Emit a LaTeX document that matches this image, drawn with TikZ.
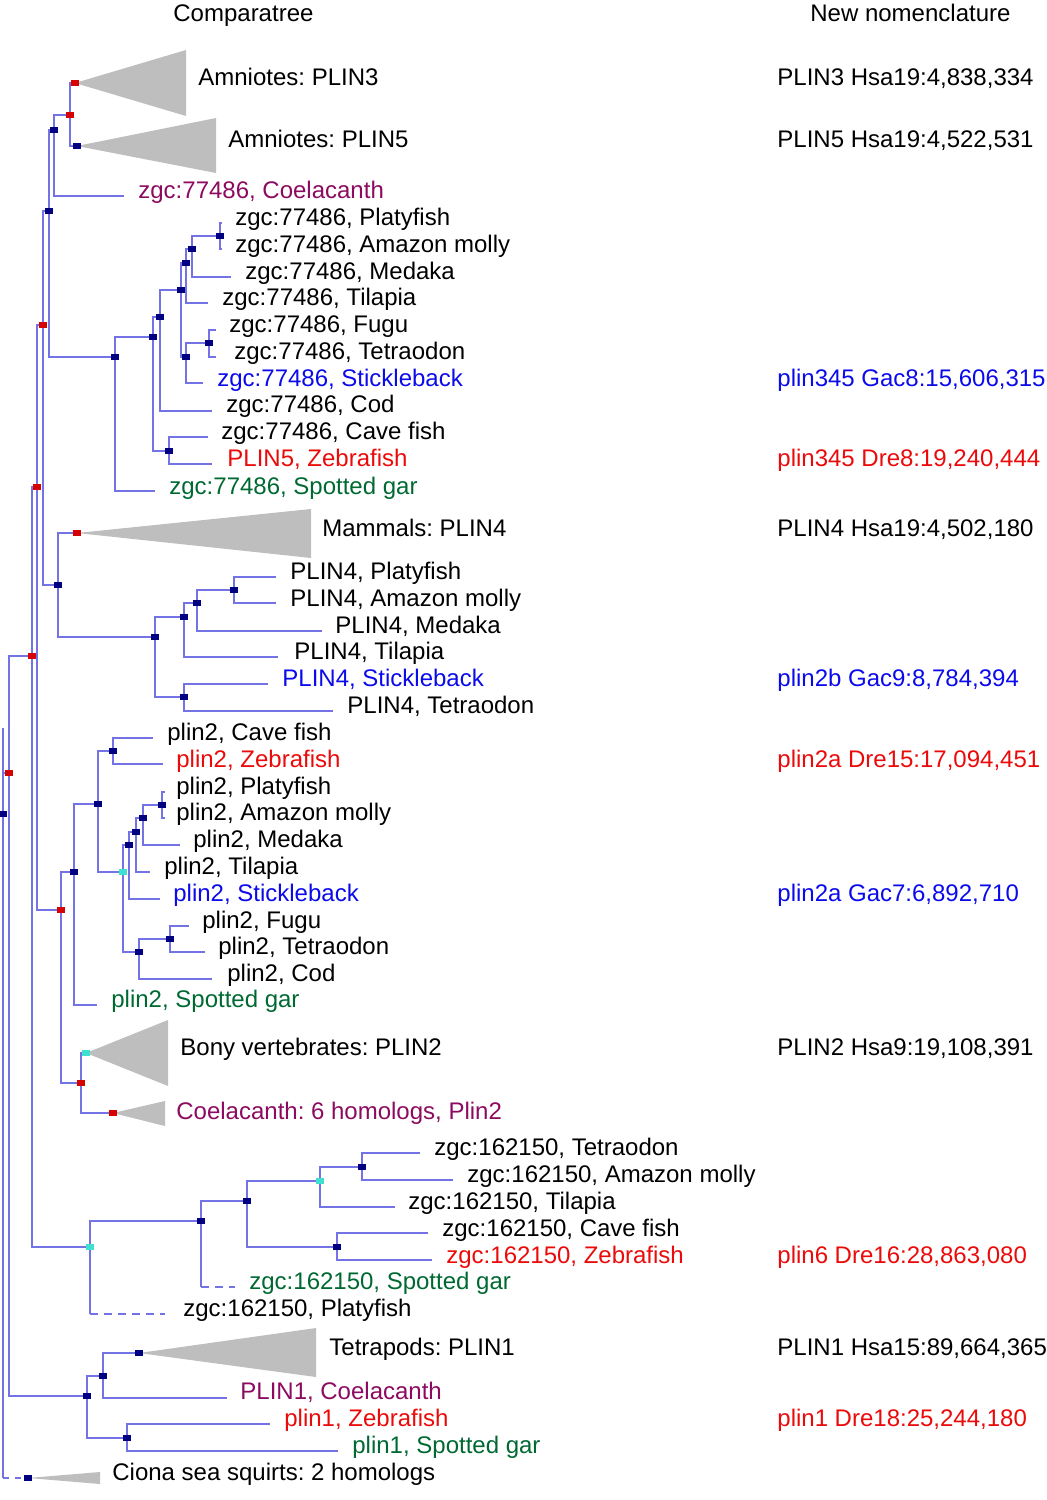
\documentclass[tikz,border=0pt]{standalone}
\usepackage{fontspec}
\setmainfont{Liberation Sans}
\usetikzlibrary{backgrounds}
\frenchspacing
\definecolor{branch}{RGB}{115,115,230}
\definecolor{sqnavy}{RGB}{0,0,128}
\definecolor{sqred}{RGB}{215,0,0}
\definecolor{sqcyan}{RGB}{64,224,208}
\definecolor{trigray}{RGB}{190,190,190}
\definecolor{txpurple}{RGB}{140,10,95}
\definecolor{txgreen}{RGB}{0,105,50}
\definecolor{txblue}{RGB}{10,10,235}
\definecolor{txred}{RGB}{235,10,10}
\begin{document}
\begin{tikzpicture}[x=0.5pt,y=-0.5pt,
 br/.style={draw=branch,line width=0.6pt},
 sq/.style={rectangle,inner sep=0pt,minimum width=3.8pt,minimum height=2.8pt},
 nv/.style={sq,fill=sqnavy}, rd/.style={sq,fill=sqred}, cy/.style={sq,fill=sqcyan},
 tri/.style={fill=trigray},
 lab/.style={anchor=base west,inner sep=0pt,font=\fontsize{12pt}{14pt}\selectfont},
 pu/.style={lab,text=txpurple}, gr/.style={lab,text=txgreen},
 bl/.style={lab,text=txblue}, re/.style={lab,text=txred}]
\useasboundingbox (0,0) rectangle (1047,1500);
% ---------- internal nodes ----------
\node[nv] (root) at (3,814) {};
\node[rd] (k) at (9,773) {};
\node[rd] (i) at (32,656) {};
\node[rd] (g) at (37,487) {};
\node[rd] (e) at (43,325) {};
\node[nv] (c) at (49,211) {};
\node[nv] (b) at (54,130) {};
\node[rd] (a) at (70,115) {};
\node[rd] (cl3) at (75,83) {};
\node[nv] (cl5) at (77,146) {};
\node[nv] (d) at (115,357) {};
\node[nv] (m) at (153,337) {};
\node[nv] (n) at (160,317) {};
\node[nv] (o) at (181,290) {};
\node[nv] (p) at (186,263) {};
\node[nv] (q) at (192,249) {};
\node[nv] (r) at (220,236) {};
\node[nv] (s) at (186,357) {};
\node[nv] (t) at (209,343) {};
\node[nv] (u) at (169,451) {};
\node[nv] (f) at (58,585) {};
\node[rd] (cl4) at (77,533) {};
\node[nv] (v) at (155,637) {};
\node[nv] (w) at (184,617) {};
\node[nv] (x) at (197,603) {};
\node[nv] (y) at (234,590) {};
\node[nv] (z) at (184,697) {};
\node[rd] (h) at (61,910) {};
\node[nv] (h1) at (74,872) {};
\node[nv] (h2) at (98,804) {};
\node[nv] (h3) at (113,751) {};
\node[cy] (h4) at (123,872) {};
\node[nv] (h5) at (129,845) {};
\node[nv] (h6) at (136,832) {};
\node[nv] (h7) at (143,818) {};
\node[nv] (h8) at (162,805) {};
\node[nv] (h9) at (139,952) {};
\node[nv] (h10) at (170,939) {};
\node[rd] (bb) at (81,1083) {};
\node[cy] (cl2) at (86,1053) {};
\node[rd] (clc) at (113,1113) {};
\node[cy] (j) at (90,1247) {};
\node[nv] (j1) at (201,1221) {};
\node[nv] (j2) at (247,1201) {};
\node[cy] (j3) at (320,1181) {};
\node[nv] (j4) at (362,1167) {};
\node[nv] (j5) at (337,1247) {};
\node[nv] (l) at (87,1396) {};
\node[nv] (l1) at (103,1376) {};
\node[nv] (cl1) at (139,1353) {};
\node[nv] (l2) at (127,1438) {};
\node[nv] (ciona) at (28,1478) {};
% ---------- leaf ends ----------
\coordinate (rtop) at (3,728);
\coordinate (Lcoel77) at (124,196);
\coordinate (Lgar77) at (155,491);
\coordinate (Lcod77) at (212,411);
\coordinate (Ltil77) at (208,303);
\coordinate (Lmed77) at (231,277);
\coordinate (Lpla77) at (222,223);
\coordinate (Lama77) at (222,249);
\coordinate (Lsti77) at (203,383);
\coordinate (Lfug77) at (216,330);
\coordinate (Ltet77) at (216,357);
\coordinate (Lcav77) at (208,437);
\coordinate (Lzeb77) at (212,464);
\coordinate (Ltil4) at (278,657);
\coordinate (Lmed4) at (322,631);
\coordinate (Lpla4) at (276,577);
\coordinate (Lama4) at (276,603);
\coordinate (Lsti4) at (268,684);
\coordinate (Ltet4) at (333,711);
\coordinate (Lgar2) at (97,1005);
\coordinate (Lcav2) at (153,738);
\coordinate (Lzeb2) at (163,764);
\coordinate (Lsti2) at (160,899);
\coordinate (Ltil2) at (150,872);
\coordinate (Lmed2) at (180,845);
\coordinate (Lpla2) at (165,792);
\coordinate (Lama2) at (165,818);
\coordinate (Lcod2) at (212,979);
\coordinate (Lfug2) at (189,926);
\coordinate (Ltet2) at (205,952);
\coordinate (Lpla6) at (165,1314);
\coordinate (Lgar6) at (235,1287);
\coordinate (Ltil6) at (395,1207);
\coordinate (Ltet6) at (420,1153);
\coordinate (Lama6) at (453,1180);
\coordinate (Lcav6) at (428,1233);
\coordinate (Lzeb6) at (432,1260);
\coordinate (Lcoel1) at (227,1398);
\coordinate (Lzeb1) at (270,1424);
\coordinate (Lgar1) at (338,1451);
% ---------- lines and triangles ----------
\begin{scope}[on background layer]
\fill[tri] (cl3.center) -- (186,50) -- (186,116) -- cycle;
\fill[tri] (cl5.center) -- (216,118) -- (216,173) -- cycle;
\fill[tri] (cl4.center) -- (311,509) -- (311,558) -- cycle;
\fill[tri] (cl2.center) -- (168,1020) -- (168,1086) -- cycle;
\fill[tri] (clc.center) -- (165,1101) -- (165,1126) -- cycle;
\fill[tri] (cl1.center) -- (316,1328) -- (316,1377) -- cycle;
\fill[tri] (ciona.center) -- (100,1472) -- (100,1484) -- cycle;
\draw[br] (root.center) -- (rtop);
\foreach \pa/\ch in {root/k,k/i,k/l,i/g,i/j,g/e,g/h,e/c,e/f,c/b,c/d,b/a,b/Lcoel77,a/cl3,a/cl5,
 d/m,d/Lgar77,m/n,m/u,n/o,n/Lcod77,o/p,o/s,p/q,p/Ltil77,q/r,q/Lmed77,r/Lpla77,r/Lama77,
 s/t,s/Lsti77,t/Lfug77,t/Ltet77,u/Lcav77,u/Lzeb77,
 f/cl4,f/v,v/w,v/z,w/x,w/Ltil4,x/y,x/Lmed4,y/Lpla4,y/Lama4,z/Lsti4,z/Ltet4,
 h/h1,h/bb,h1/h2,h1/Lgar2,h2/h3,h2/h4,h3/Lcav2,h3/Lzeb2,h4/h5,h4/h9,h5/h6,h5/Lsti2,
 h6/h7,h6/Ltil2,h7/h8,h7/Lmed2,h8/Lpla2,h8/Lama2,h9/h10,h9/Lcod2,h10/Lfug2,h10/Ltet2,
 bb/cl2,bb/clc,j/j1,j1/j2,j2/j3,j2/j5,j3/j4,j3/Ltil6,j4/Ltet6,j4/Lama6,j5/Lcav6,j5/Lzeb6,
 l/l1,l/l2,l1/cl1,l1/Lcoel1,l2/Lzeb1,l2/Lgar1}
 \draw[br] (\pa.center) |- (\ch.center);
\draw[br] (j.center) -- (j.center |- Lpla6);
\draw[br,dash pattern=on 4pt off 3pt] (j.center |- Lpla6) -- (Lpla6);
\draw[br] (j1.center) -- (j1.center |- Lgar6);
\draw[br,dash pattern=on 4pt off 3pt] (j1.center |- Lgar6) -- (Lgar6);
\draw[br] (root.center) -- (root.center |- ciona);
\draw[br,dash pattern=on 3pt off 3pt] (root.center |- ciona) -- (ciona.center);
\end{scope}
% ---------- texts ----------
\node[lab] (hd1) at (173,21) {Comparatree};
\node[lab] (hd2) at (810,21) {New nomenclature};
\node[lab] (t3) at (198,85) {Amniotes: PLIN3};
\node[lab] (t5) at (228,147) {Amniotes: PLIN5};
\node[pu] (a1) at (138,198) {zgc:77486, Coelacanth};
\node[lab] (a2) at (235,225) {zgc:77486, Platyfish};
\node[lab] (a3) at (235,252) {zgc:77486, Amazon molly};
\node[lab] (a4) at (245,279) {zgc:77486, Medaka};
\node[lab] (a5) at (222,305) {zgc:77486, Tilapia};
\node[lab] (a6) at (229,332) {zgc:77486, Fugu};
\node[lab] (a7) at (234,359) {zgc:77486, Tetraodon};
\node[bl] (a8) at (217,386) {zgc:77486, Stickleback};
\node[lab] (a9) at (226,412) {zgc:77486, Cod};
\node[lab] (a10) at (221,439) {zgc:77486, Cave fish};
\node[re] (a11) at (227,466) {PLIN5, Zebrafish};
\node[gr] (a12) at (169,494) {zgc:77486, Spotted gar};
\node[lab] (t4) at (322,536) {Mammals: PLIN4};
\node[lab] (b1) at (290,579) {PLIN4, Platyfish};
\node[lab] (b2) at (290,606) {PLIN4, Amazon molly};
\node[lab] (b3) at (335,633) {PLIN4, Medaka};
\node[lab] (b4) at (294,659) {PLIN4, Tilapia};
\node[bl] (b5) at (282,686) {PLIN4, Stickleback};
\node[lab] (b6) at (347,713) {PLIN4, Tetraodon};
\node[lab] (c1) at (167,740) {plin2, Cave fish};
\node[re] (c2) at (176,767) {plin2, Zebrafish};
\node[lab] (c3) at (176,794) {plin2, Platyfish};
\node[lab] (c4) at (176,820) {plin2, Amazon molly};
\node[lab] (c5) at (193,847) {plin2, Medaka};
\node[lab] (c6) at (164,874) {plin2, Tilapia};
\node[bl] (c7) at (173,901) {plin2, Stickleback};
\node[lab] (c8) at (202,928) {plin2, Fugu};
\node[lab] (c9) at (218,954) {plin2, Tetraodon};
\node[lab] (c10) at (227,981) {plin2, Cod};
\node[gr] (c11) at (111,1007) {plin2, Spotted gar};
\node[lab] (t2) at (180,1055) {Bony vertebrates: PLIN2};
\node[pu] (t6) at (176,1119) {Coelacanth: 6 homologs, Plin2};
\node[lab] (d1) at (434,1155) {zgc:162150, Tetraodon};
\node[lab] (d2) at (467,1182) {zgc:162150, Amazon molly};
\node[lab] (d3) at (408,1209) {zgc:162150, Tilapia};
\node[lab] (d4) at (442,1236) {zgc:162150, Cave fish};
\node[re] (d5) at (446,1263) {zgc:162150, Zebrafish};
\node[gr] (d6) at (249,1289) {zgc:162150, Spotted gar};
\node[lab] (d7) at (183,1316) {zgc:162150, Platyfish};
\node[lab] (t1) at (329,1355) {Tetrapods: PLIN1};
\node[pu] (e1) at (240,1399) {PLIN1, Coelacanth};
\node[re] (e2) at (284,1426) {plin1, Zebrafish};
\node[gr] (e3) at (352,1453) {plin1, Spotted gar};
\node[lab] (t7) at (112,1480) {Ciona sea squirts: 2 homologs};
% right column
\node[lab] (r1) at (777,85) {PLIN3 Hsa19:4,838,334};
\node[lab] (r2) at (777,147) {PLIN5 Hsa19:4,522,531};
\node[bl] (r3) at (777,386) {plin345 Gac8:15,606,315};
\node[re] (r4) at (777,466) {plin345 Dre8:19,240,444};
\node[lab] (r5) at (777,536) {PLIN4 Hsa19:4,502,180};
\node[bl] (r6) at (777,686) {plin2b Gac9:8,784,394};
\node[re] (r7) at (777,767) {plin2a Dre15:17,094,451};
\node[bl] (r8) at (777,901) {plin2a Gac7:6,892,710};
\node[lab] (r9) at (777,1055) {PLIN2 Hsa9:19,108,391};
\node[re] (r10) at (777,1263) {plin6 Dre16:28,863,080};
\node[lab] (r11) at (777,1355) {PLIN1 Hsa15:89,664,365};
\node[re] (r12) at (777,1426) {plin1 Dre18:25,244,180};
\end{tikzpicture}
\end{document}
